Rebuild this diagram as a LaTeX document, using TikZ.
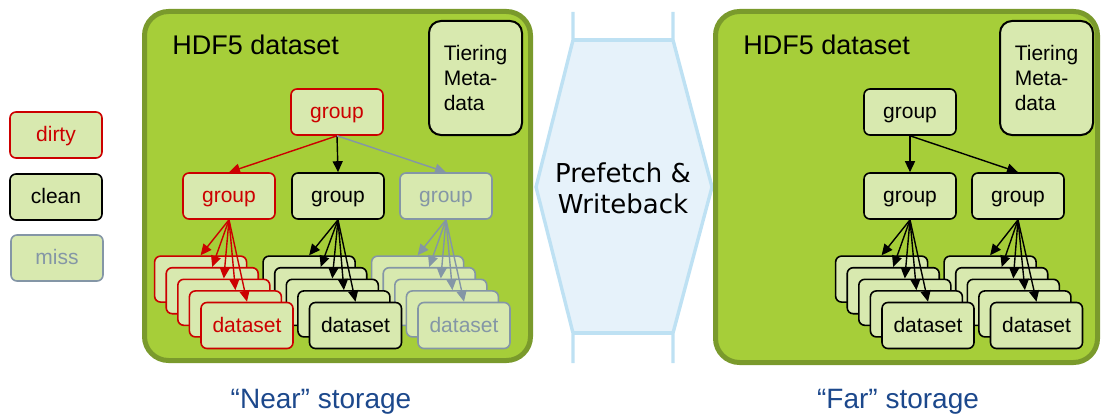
\documentclass[tikz,border=0pt]{standalone}
\usepackage{fontspec}
\setmainfont{Liberation Sans}
\newfontfamily\widefont{DejaVu Sans}
\usetikzlibrary{arrows.meta}
\definecolor{hdffill}{RGB}{166,206,57}
\definecolor{hdfborder}{RGB}{122,154,44}
\definecolor{boxfill}{RGB}{216,233,175}
\definecolor{dirtyred}{RGB}{204,0,0}
\definecolor{missgrey}{RGB}{132,150,166}
\definecolor{hexline}{RGB}{190,225,243}
\definecolor{hexfill}{RGB}{230,242,250}
\definecolor{labelblue}{RGB}{28,72,140}

\begin{document}
\begin{tikzpicture}[
    x=0.5pt, y=-0.5pt,
    font=\fontsize{10.5}{12.5}\selectfont,
    hdfbox/.style={draw=hdfborder, fill=hdffill, line width=2.5pt, rounded corners=12pt},
    item/.style={draw, fill=boxfill, rounded corners=3pt, line width=0.8pt,
                 minimum width=46pt, minimum height=23pt, inner sep=0pt,
                 text height=8pt, text depth=1.5pt},
    dirty/.style={item, draw=dirtyred, text=dirtyred},
    clean/.style={item, draw=black},
    miss/.style={item, draw=missgrey, text=missgrey},
    tier/.style={draw, fill=boxfill, rounded corners=6pt, line width=1pt,
                 minimum width=46.5pt, minimum height=57pt, align=left},
    link/.style={-{Triangle[length=5.5pt, width=5pt]}, line width=0.7pt},
    title/.style={anchor=base west, inner sep=0pt, font=\fontsize{13.5}{15}\selectfont},
    storage/.style={text=labelblue, font=\fontsize{14}{16}\selectfont}
  ]
    \useasboundingbox (0,0) rectangle (1101,417);

    % legend
    \node[dirty] (legdirty) at (56,135) {dirty};
    \node[clean] (legclean) at (56,197) {clean};
    \node[miss] (legmiss) at (57,258) {miss};

    % near storage
    \draw[hdfbox] (144.5,11.5) rectangle (530.5,360.5);
    \node[title] (nearttl) at (172,55) {HDF5 dataset};
    \node[tier] (neartier) at (475.5,78) {Tiering\\Meta-\\data};

    \node[dirty] (ntop) at (337,112) {group};
    \node[dirty] (ngr) at (229,196) {group};
    \node[clean] (ngc) at (338,196) {group};
    \node[miss] (ngm) at (446,196) {group};

    \foreach \i in {0,...,3} {
      \pgfmathsetmacro\d{(4-\i)*11.6}
      \node[dirty] (ndr\i) at (247-\d,325.5-\d) {};
      \node[clean] (ndc\i) at (355.5-\d,325.5-\d) {};
      \node[miss] (ndm\i) at (464-\d,325.5-\d) {};
    }
    \node[dirty] (ndr4) at (247,325.5) {dataset};
    \node[clean] (ndc4) at (355.5,325.5) {dataset};
    \node[miss] (ndm4) at (464,325.5) {dataset};

    \draw[link, dirtyred] (ntop.south) -- (ngr.north);
    \draw[link] (ntop.south) -- (ngc.north);
    \draw[link, missgrey] (ntop.south) -- (ngm.north);
    \foreach \i in {0,...,4} {
      \draw[link, dirtyred] (ngr.south) -- (ndr\i.north);
      \draw[link] (ngc.south) -- (ndc\i.north);
      \draw[link, missgrey] (ngm.south) -- (ndm\i.north);
    }

    % prefetch / writeback
    \fill[hexfill] (573,40) -- (673,40) -- (712,187) -- (673,333) -- (573,333) -- (536,187) -- cycle;
    \draw[hexline, line width=1.7pt] (573,12) -- (573,40) -- (536,187) -- (573,333) -- (573,363);
    \draw[hexline, line width=1.7pt] (673,12) -- (673,40) -- (712,187) -- (673,333) -- (673,363);
    \draw[hexline, line width=1.7pt] (573,40) -- (673,40);
    \draw[hexline, line width=1.7pt] (573,333) -- (673,333);
    \node[align=center, font=\widefont\fontsize{13}{15.5}\selectfont] (pw) at (623,188) {Prefetch \&\\Writeback};

    % far storage
    \draw[hdfbox] (715.5,11.5) rectangle (1097.5,362.5);
    \node[title] (farttl) at (743,55) {HDF5 dataset};
    \node[tier] (fartier) at (1046.5,78) {Tiering\\Meta-\\data};

    \node[clean] (ftop) at (910,112) {group};
    \node[clean] (fga) at (910,196) {group};
    \node[clean] (fgb) at (1018,196) {group};

    \foreach \i in {0,...,3} {
      \pgfmathsetmacro\d{(4-\i)*11.6}
      \node[clean] (fda\i) at (928-\d,325.5-\d) {};
      \node[clean] (fdb\i) at (1036.5-\d,325.5-\d) {};
    }
    \node[clean] (fda4) at (928,325.5) {dataset};
    \node[clean] (fdb4) at (1036.5,325.5) {dataset};

    \draw[link] (ftop.south) -- (fga.north);
    \draw[link] (ftop.south) -- (fgb.north);
    \foreach \i in {0,...,4} {
      \draw[link] (fga.south) -- (fda\i.north);
      \draw[link] (fgb.south) -- (fdb\i.north);
    }

    % captions
    \node[storage] (nearlbl) at (321,402) {“Near” storage};
    \node[storage] (farlbl) at (898,402) {“Far” storage};
  \end{tikzpicture}
\end{document}
